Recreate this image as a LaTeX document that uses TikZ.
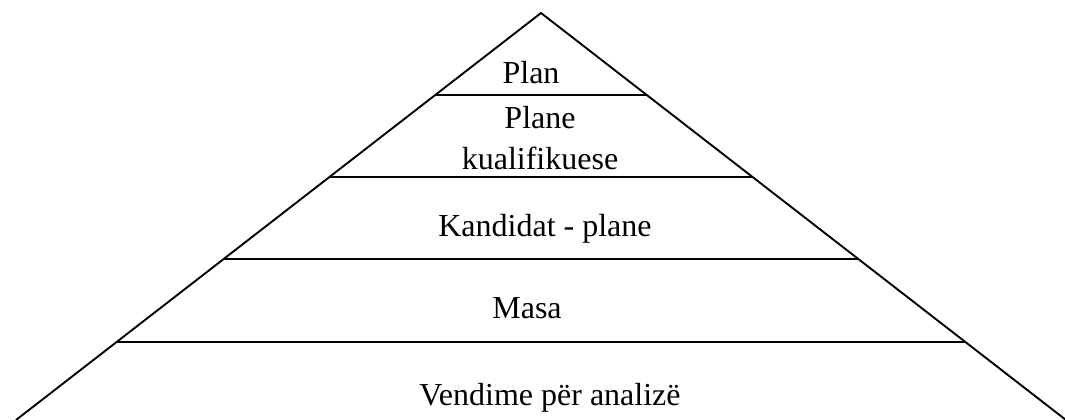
\documentclass[tikz,border=0pt]{standalone}
\usepackage{fontspec}
\setmainfont{Liberation Serif}
\usetikzlibrary{calc}
\tikzset{
  edge/.style={line width=1.9pt},
  band/.style={line width=1.7pt},
  lbl/.style={anchor=base, inner sep=0pt, font=\fontsize{32}{41}\selectfont, align=center}
}
\begin{document}
\begin{tikzpicture}[x=1pt,y=-1pt]
\useasboundingbox (0,0) rectangle (1065,420);
\coordinate (apex) at (541,13);
\coordinate (bl) at (16,420);
\coordinate (br) at (1066,420);
\foreach \i/\t in {1/0.2015,2/0.403,3/0.6044,4/0.8084}{
  \coordinate (l\i) at ($(apex)!\t!(bl)$);
  \coordinate (r\i) at ($(apex)!\t!(br)$);
}
\draw[edge, line join=miter] (bl) -- (apex) -- (br);
\foreach \i in {1,...,4}{ \draw[band] (l\i) -- (r\i); }
\node[lbl] (plan) at (531,83) {Plan};
\node[lbl] (plane) at (540,128) {Plane};
\node[lbl] (kual) at (540,169) {kualifikuese};
\node[lbl] (kand) at (545,236) {Kandidat - plane};
\node[lbl] (masa) at (527,318) {Masa};
\node[lbl] (vend) at (550,405) {Vendime për analizë};
\end{tikzpicture}
\end{document}
